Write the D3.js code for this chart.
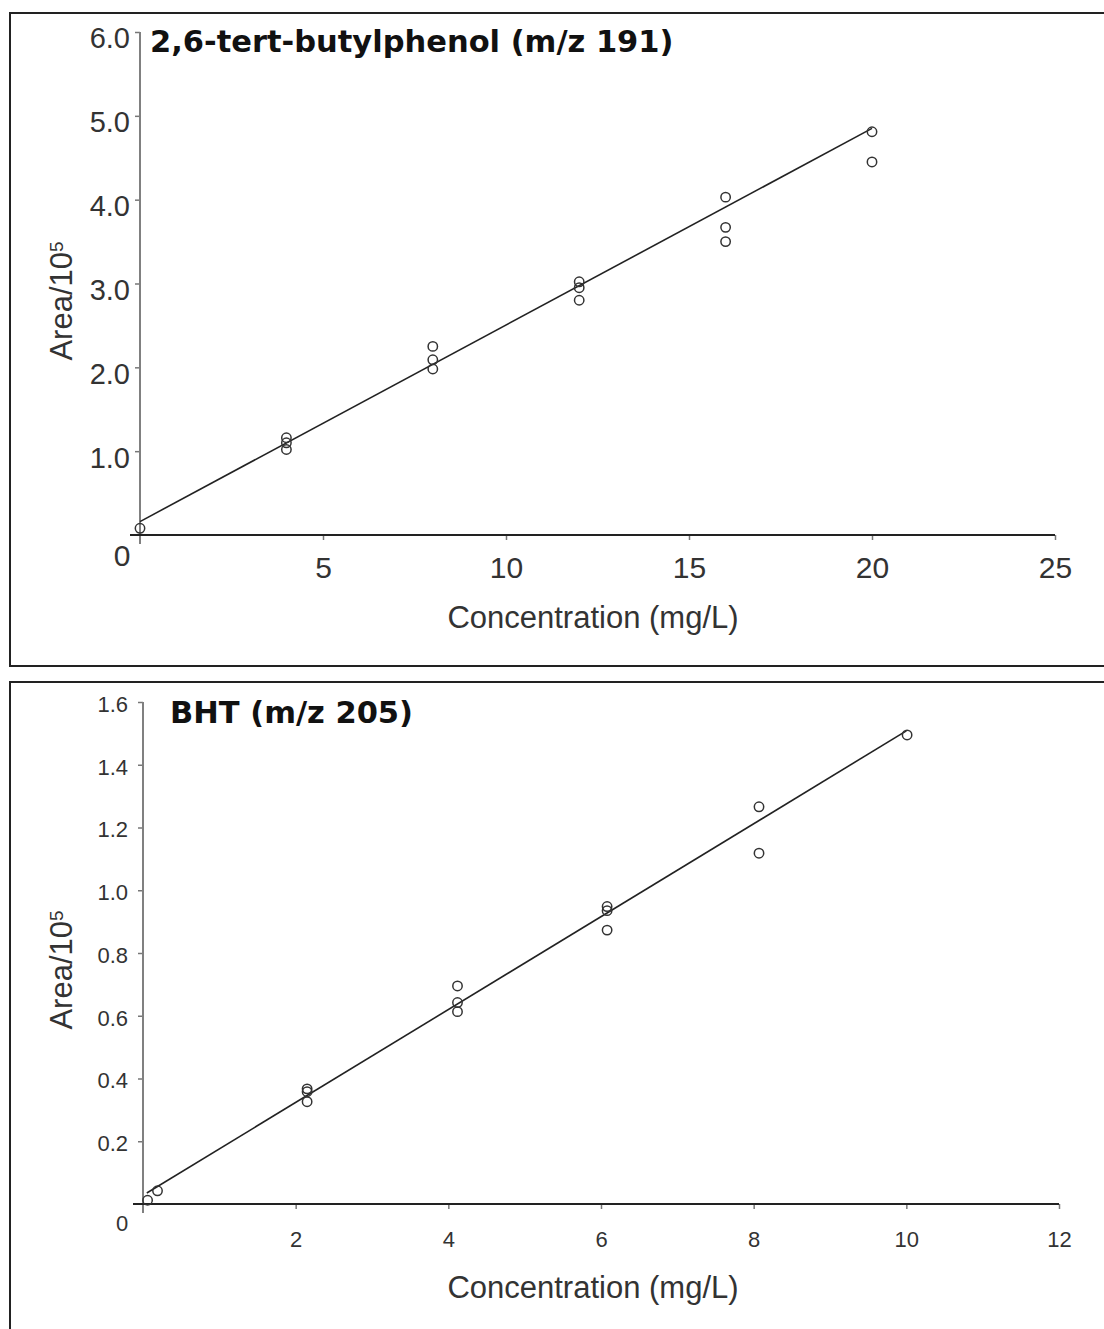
<!DOCTYPE html>
<html>
<head>
<meta charset="utf-8">
<script src="https://cdn.jsdelivr.net/npm/d3@7"></script>
<style>
  body { margin: 0; background: #fff; }
  svg { display: block; }
  .tick text { font-family: "Liberation Sans", Arial, sans-serif; fill: #333; }
  .lbl { font-family: "Liberation Sans", Arial, sans-serif; fill: #333; }
  .ttl { font-family: "DejaVu Sans", Verdana, sans-serif; font-weight: bold; fill: #111; }
</style>
</head>
<body>
<script>
// 2,6-tert-butylphenol (m/z 191)
const butylX = [0, 4, 4, 4, 8, 8, 8, 12, 12, 12, 16, 16, 16, 20, 20];
const butylY = [0.08, 1.16, 1.10, 1.02, 2.25, 2.09, 1.98, 3.02, 2.95, 2.80, 4.03, 3.67, 3.50, 4.81, 4.45];
const butylFitX = [0, 20];
const butylFitY = [0.16, 4.85];
const butylXTicks = [5, 10, 15, 20, 25];
const butylYTicks = [1, 2, 3, 4, 5, 6];

// BHT (m/z 205)
const bhtX = [0.06, 0.19, 2.15, 2.15, 2.15, 4.12, 4.12, 4.12, 6.08, 6.08, 6.08, 8.07, 8.07, 10.01];
const bhtY = [0.012, 0.042, 0.367, 0.358, 0.326, 0.695, 0.642, 0.613, 0.948, 0.935, 0.873, 1.266, 1.118, 1.495];
const bhtFitX = [0.05, 10];
const bhtFitY = [0.035, 1.508];
const bhtXTicks = [2, 4, 6, 8, 10, 12];
const bhtYTicks = [0.2, 0.4, 0.6, 0.8, 1.0, 1.2, 1.4, 1.6];

const W = 1104, H = 1329;
const svg = d3.select('body').append('svg').attr('width', W).attr('height', H);

function drawPanel(p) {
  const g = svg.append('g');

  // frame (right / bottom edges run off the picture)
  g.append('rect')
    .attr('x', p.box[0]).attr('y', p.box[1])
    .attr('width', p.box[2]).attr('height', p.box[3])
    .attr('fill', 'none').attr('stroke', '#222').attr('stroke-width', 2);

  const x = d3.scaleLinear().domain(p.xDomain).range(p.xRange);
  const y = d3.scaleLinear().domain(p.yDomain).range(p.yRange);

  const yAxis = g.append('g')
    .attr('transform', `translate(${p.xRange[0]},0)`)
    .call(d3.axisLeft(y).tickValues(p.yTicks).tickSize(5).tickSizeOuter(0)
      .tickPadding(p.yPad).tickFormat(d3.format('.1f')));
  yAxis.select('.domain').remove();
  yAxis.selectAll('.tick line').attr('stroke', '#777').attr('stroke-width', 1.5);
  yAxis.selectAll('.tick text').style('font-size', p.yFont + 'px').attr('dy', p.yDy);
  g.append('line')
    .attr('x1', p.xRange[0]).attr('x2', p.xRange[0])
    .attr('y1', y(p.yDomain[1])).attr('y2', y(0) + 9)
    .attr('stroke', '#808080').attr('stroke-width', 2);

  const xAxis = g.append('g')
    .attr('transform', `translate(0,${p.yRange[0]})`)
    .call(d3.axisBottom(x).tickValues(p.xTicks).tickSize(5).tickSizeOuter(0)
      .tickPadding(p.xPad));
  xAxis.select('.domain').remove();
  xAxis.selectAll('.tick line').attr('stroke', '#777').attr('stroke-width', 1.5);
  xAxis.selectAll('.tick text').style('font-size', p.xFont + 'px');
  g.append('line')
    .attr('x1', x(0) - 10).attr('x2', x(p.xDomain[1]))
    .attr('y1', y(0)).attr('y2', y(0))
    .attr('stroke', '#222').attr('stroke-width', 2);

  // shared origin label
  g.append('text').attr('class', 'lbl')
    .attr('x', p.zero[0]).attr('y', p.zero[1])
    .attr('text-anchor', 'middle')
    .style('font-size', p.xFont + 'px')
    .text('0');

  // fit line
  g.append('line')
    .attr('x1', x(p.fitX[0])).attr('y1', y(p.fitY[0]))
    .attr('x2', x(p.fitX[1])).attr('y2', y(p.fitY[1]))
    .attr('stroke', '#222').attr('stroke-width', 1.6);

  // replicate points
  g.selectAll('circle.pt')
    .data(p.xs.map((v, i) => [v, p.ys[i]]))
    .join('circle')
    .attr('class', 'pt')
    .attr('cx', d => x(d[0]))
    .attr('cy', d => y(d[1]))
    .attr('r', 4.7)
    .attr('fill', 'none')
    .attr('stroke', '#333')
    .attr('stroke-width', 1.5);

  g.append('text').attr('class', 'ttl')
    .attr('x', p.title[0]).attr('y', p.title[1])
    .style('font-size', '30.5px')
    .text(p.titleText);

  g.append('text').attr('class', 'lbl')
    .attr('x', p.xLabel[0]).attr('y', p.xLabel[1])
    .attr('text-anchor', 'middle')
    .style('font-size', '31px')
    .text('Concentration (mg/L)');

  const yl = g.append('text').attr('class', 'lbl')
    .attr('transform', `translate(${p.yLabel[0]},${p.yLabel[1]}) rotate(-90)`)
    .attr('text-anchor', 'middle')
    .style('font-size', '31px');
  yl.append('tspan').text('Area/10');
  yl.append('tspan').attr('dy', -9).style('font-size', '19px').text('5');
}

drawPanel({
  box: [10, 13, 1200, 653],
  xDomain: [0, 25], xRange: [140, 1055],
  yDomain: [0, 6], yRange: [535, 32],
  xTicks: butylXTicks, yTicks: butylYTicks,
  xFont: 30, yFont: 29, xPad: 17, yPad: 5, yDy: '0.55em',
  zero: [122, 566],
  xs: butylX, ys: butylY, fitX: butylFitX, fitY: butylFitY,
  title: [150, 52], titleText: '2,6-tert-butylphenol (m/z 191)',
  xLabel: [593, 628], yLabel: [72, 301]
});

drawPanel({
  box: [10, 682, 1200, 700],
  xDomain: [0, 12], xRange: [143, 1059],
  yDomain: [0, 1.6], yRange: [1204, 702],
  xTicks: bhtXTicks, yTicks: bhtYTicks,
  xFont: 22, yFont: 22, xPad: 22, yPad: 10, yDy: '0.42em',
  zero: [122, 1231],
  xs: bhtX, ys: bhtY, fitX: bhtFitX, fitY: bhtFitY,
  title: [170, 723], titleText: 'BHT (m/z 205)',
  xLabel: [593, 1298], yLabel: [72, 970]
});
</script>
</body>
</html>
